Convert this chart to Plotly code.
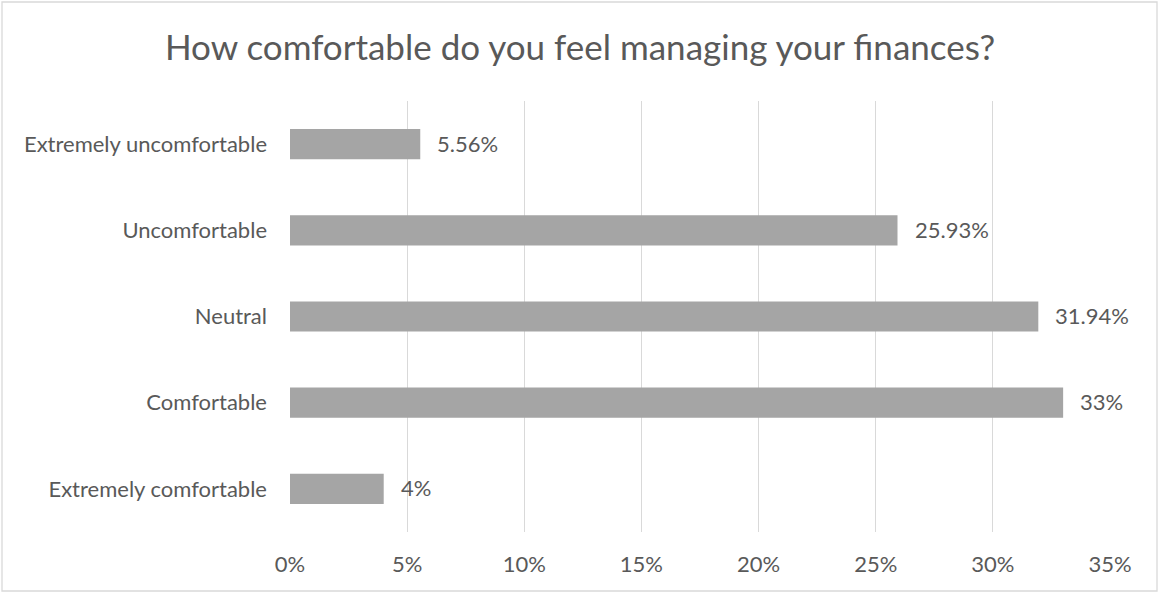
import plotly.graph_objects as go

# Survey responses, bottom-to-top order as drawn on the category axis
categories = [
    "Extremely comfortable",
    "Comfortable",
    "Neutral",
    "Uncomfortable",
    "Extremely uncomfortable",
]
shares = [4, 33, 31.94, 25.93, 5.56]
share_labels = ["4%", "33%", "31.94%", "25.93%", "5.56%"]
tick_values = [0, 5, 10, 15, 20, 25, 30, 35]
tick_labels = ["0%", "5%", "10%", "15%", "20%", "25%", "30%", "35%"]

TEXT = "#595959"
GRID = "#D9D9D9"
BAR = "#A5A5A5"
FONT = "Lato, 'Open Sans', sans-serif"

W, H = 1160, 594
L, R, T, B = 290, 50, 101, 62

fig = go.Figure(
    go.Bar(
        x=shares,
        y=categories,
        orientation="h",
        marker=dict(color=BAR, line=dict(width=0)),
        width=0.35,
        hoverinfo="skip",
    )
)

# value labels just past the end of each bar
for cat, val, lab in zip(categories, shares, share_labels):
    fig.add_annotation(
        x=val, y=cat, text=lab, showarrow=False,
        xanchor="left", yanchor="middle", xshift=15, yshift=1,
        font=dict(family=FONT, size=22, color=TEXT),
    )

pw, ph = W - L - R, H - T - B
# thin outer frame around the whole chart
fig.add_shape(
    type="rect", xref="paper", yref="paper",
    x0=(2 - L) / pw, x1=(W - 3 - L) / pw,
    y0=-(H - 3 - T - ph) / ph, y1=1 + (T - 2) / ph,
    line=dict(color=GRID, width=1.3), fillcolor="rgba(0,0,0,0)", layer="below",
)

fig.update_layout(
    width=W, height=H,
    margin=dict(l=L, r=R, t=T, b=B),
    paper_bgcolor="white", plot_bgcolor="white",
    showlegend=False,
    title=dict(
        text="How comfortable do you feel managing your finances?",
        x=0.5, xref="container", xanchor="center",
        y=1 - 48 / H, yanchor="middle",
        font=dict(family=FONT, size=35, color=TEXT),
    ),
    xaxis=dict(
        range=[0, 35], tickvals=tick_values, ticktext=tick_labels,
        showgrid=True, gridcolor=GRID, gridwidth=1.3,
        zeroline=False, showline=False, ticks="",
        tickfont=dict(family=FONT, size=22, color=TEXT),
        ticklabelstandoff=17, fixedrange=True,
    ),
    yaxis=dict(
        categoryorder="array", categoryarray=categories,
        showgrid=False, zeroline=False, showline=False, ticks="",
        tickfont=dict(family=FONT, size=22, color=TEXT),
        ticklabelstandoff=22, fixedrange=True,
    ),
)

fig.write_html("out.html")
